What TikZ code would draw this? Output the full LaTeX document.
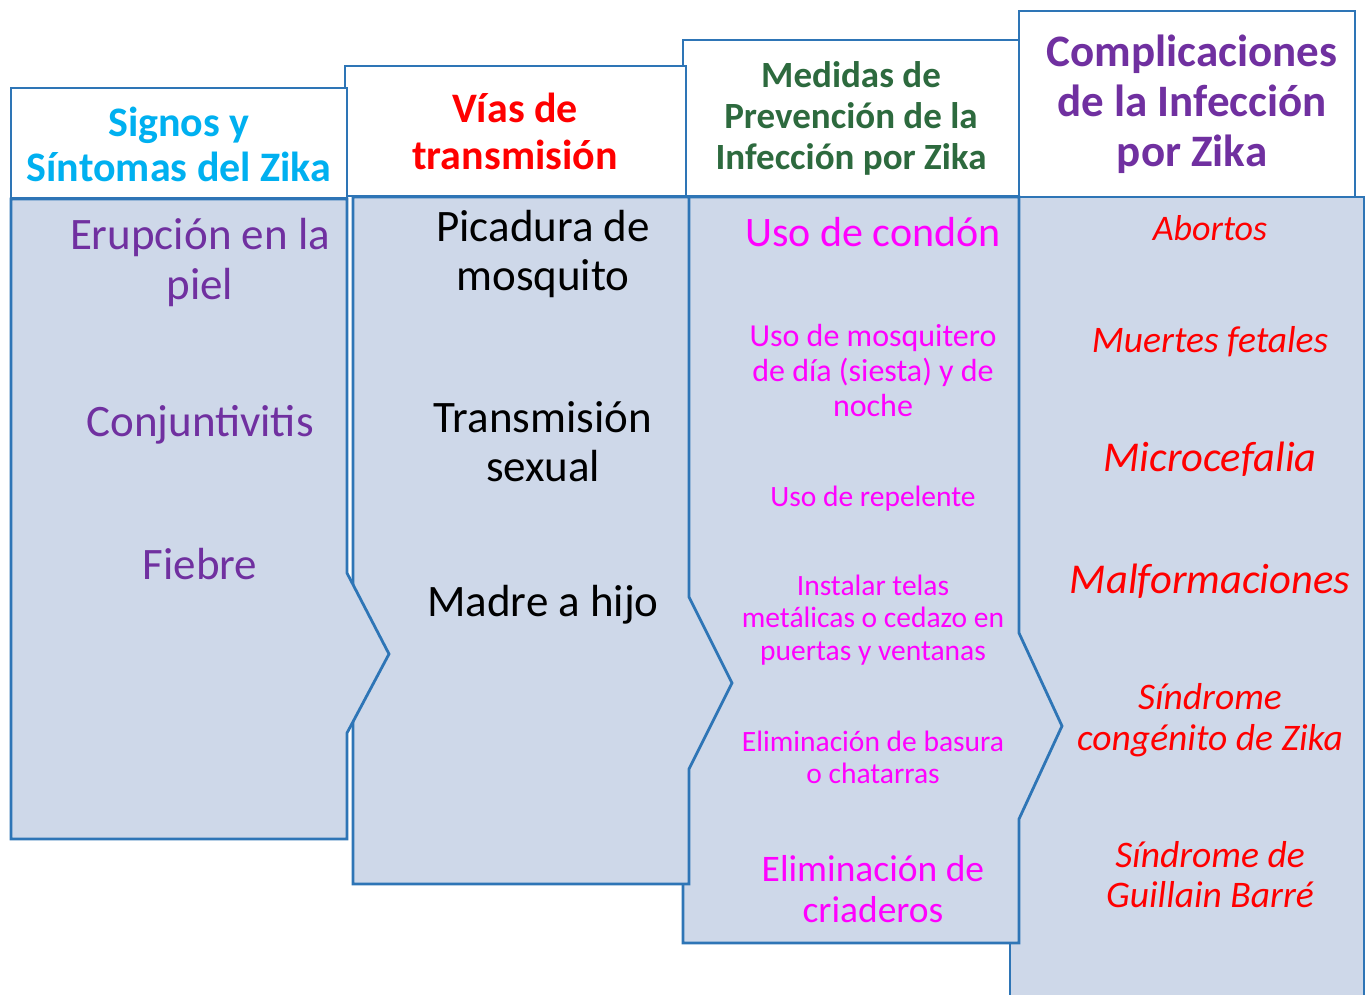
\documentclass[tikz,border=0pt]{standalone}
\usepackage{fontspec}
\setmainfont{Carlito}
\definecolor{lineblue}{HTML}{2E75B6}
\definecolor{bodyfill}{HTML}{CED8E9}
\definecolor{hcyan}{HTML}{00B0F0}
\definecolor{hpurple}{HTML}{7030A0}
\definecolor{hred}{HTML}{FF0000}
\definecolor{hgreen}{HTML}{2D6A3E}
\definecolor{hmag}{HTML}{FF00FF}
\tikzset{
  panel/.style={draw=lineblue, line width=2.8pt, fill=bodyfill, line join=miter},
  headbox/.style={draw=lineblue, line width=2.8pt, fill=white},
  txt/.style={align=center, inner sep=0pt, anchor=center},
}
\newcommand{\fsl}[2]{\fontsize{#1}{#2}\selectfont}
\begin{document}
\begin{tikzpicture}[x=1pt,y=-1pt]
\useasboundingbox (0,0) rectangle (1372,994);
% column 4
\fill[bodyfill] (1010,197) rectangle (1364,1000);
\draw[lineblue, line width=2.8pt] (1010,1000) -- (1010,197) -- (1364,197) -- (1364,1000);
\draw[headbox] (1019,11) rectangle (1355,197);
% column 3
\draw[panel] (683,197) -- (1019,197) -- (1019,633) -- (1062,726) -- (1019,819) -- (1019,943) -- (683,943) -- cycle;
\draw[headbox] (683,40) rectangle (1019,196);
% column 2
\draw[panel] (353,197) -- (689,197) -- (689,597) -- (732,683) -- (689,769) -- (689,884) -- (353,884) -- cycle;
\draw[headbox] (345,66) rectangle (686,196);
% column 1
\draw[panel] (11,199) -- (347,199) -- (347,573) -- (389,654) -- (347,733) -- (347,839) -- (11,839) -- cycle;
\draw[headbox] (11,88) rectangle (347,198);

% headers
\node[txt, text=hcyan, font=\bfseries\fsl{42}{45}] (h1) at (179,144) {Signos y\\Síntomas del Zika};
\node[txt, text=hred, font=\bfseries\fsl{42}{47}] (h2) at (515,131) {Vías de\\transmisión};
\node[txt, text=hgreen, font=\bfseries\fsl{37}{41}] (h3) at (851,118) {Medidas de\\Prevención de la\\Infección por Zika};
\node[txt, text=hpurple, font=\bfseries\fsl{45}{50}] (h4) at (1192,104) {Complicaciones\\de la Infección\\por Zika};

% column 1 body
\node[txt, text=hpurple, font=\fsl{45}{50}] (c1a) at (200,262) {Erupción en la\\piel};
\node[txt, text=hpurple, font=\fsl{45}{50}] (c1b) at (200,425) {Conjuntivitis};
\node[txt, text=hpurple, font=\fsl{45}{50}] (c1c) at (200,564) {Fiebre};

% column 2 body
\node[txt, text=black, font=\fsl{45}{49}] (c2a) at (543,254) {Picadura de\\mosquito};
\node[txt, text=black, font=\fsl{45}{49}] (c2b) at (543,442) {Transmisión\\sexual};
\node[txt, text=black, font=\fsl{45}{49}] (c2c) at (543,605) {Madre a hijo};

% column 3 body
\node[txt, text=hmag, font=\fsl{42}{46}] (c3a) at (873,232) {Uso de condón};
\node[txt, text=hmag, font=\fsl{32}{35}] (c3b) at (873,370) {Uso de mosquitero\\de día (siesta) y de\\noche};
\node[txt, text=hmag, font=\fsl{29.5}{32.5}] (c3c) at (873,499) {Uso de repelente};
\node[txt, text=hmag, font=\fsl{29.5}{32.5}] (c3d) at (873,620) {Instalar telas\\metálicas o cedazo en\\puertas y ventanas};
\node[txt, text=hmag, font=\fsl{29.5}{32}] (c3e) at (873,757) {Eliminación de basura\\o chatarras};
\node[txt, text=hmag, font=\fsl{37.5}{41}] (c3f) at (873,889) {Eliminación de\\criaderos};

% column 4 body
\node[txt, text=hred, font=\itshape\fsl{36}{40}] (c4a) at (1210,228) {Abortos};
\node[txt, text=hred, font=\itshape\fsl{37.5}{41}] (c4b) at (1210,342) {Muertes fetales};
\node[txt, text=hred, font=\itshape\fsl{42.5}{46}] (c4c) at (1210,459) {Microcefalia};
\node[txt, text=hred, font=\itshape\fsl{42.5}{46}] (c4d) at (1210,581) {Malformaciones};
\node[txt, text=hred, font=\itshape\fsl{37.5}{41}] (c4e) at (1210,720) {Síndrome\\congénito de Zika};
\node[txt, text=hred, font=\itshape\fsl{37.5}{40}] (c4f) at (1210,875) {Síndrome de\\Guillain Barré};
\end{tikzpicture}
\end{document}
